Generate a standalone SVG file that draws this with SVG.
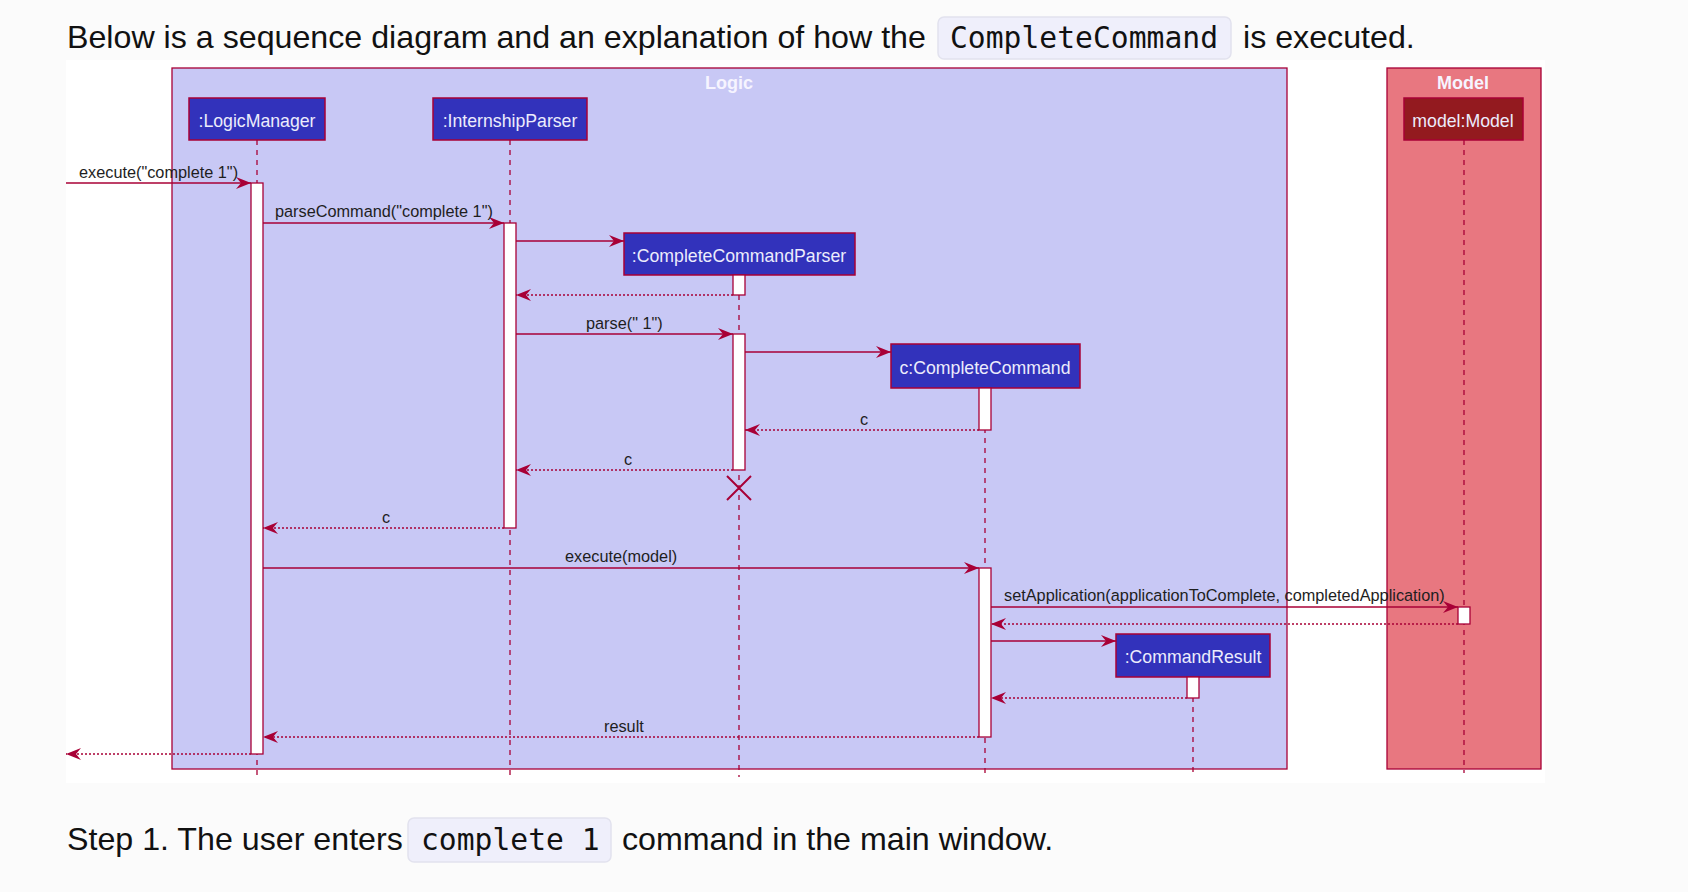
<svg xmlns="http://www.w3.org/2000/svg" width="1688" height="892" viewBox="0 0 1688 892">
<style>
.page{font-family:"Liberation Sans",Arial,sans-serif;font-size:32.2px;fill:#111}
.code{font-family:"DejaVu Sans Mono","Liberation Mono",monospace;font-size:29.7px;fill:#111}
.codebox{fill:#efeffb;stroke:#e2e2ee;stroke-width:1.5}
.frame-logic{fill:#c8c8f5;stroke:#A80036;stroke-width:1.3}
.frame-model{fill:#e87780;stroke:#A80036;stroke-width:1.3}
.ftitle{font-family:"Liberation Sans",Arial,sans-serif;font-size:18px;font-weight:bold;fill:#f6f4ff;text-anchor:middle}
.part{fill:#3232bb;stroke:#A80036;stroke-width:1.5}
.partm{fill:#931a1f;stroke:#A80036;stroke-width:1.5}
.plabel{font-family:"Liberation Sans",Arial,sans-serif;font-size:17.7px;fill:#ececfc;text-anchor:middle}
.life{stroke:#A80036;stroke-width:1.3;stroke-dasharray:5,5;fill:none}
.act{fill:#ffffff;stroke:#A80036;stroke-width:1.3}
.msg{stroke:#A80036;stroke-width:1.5;fill:none;marker-end:url(#ah)}
.ret{stroke:#A80036;stroke-width:1.3;fill:none;stroke-dasharray:2,2;marker-end:url(#ah)}
.mlabel{font-family:"Liberation Sans",Arial,sans-serif;font-size:16.3px;fill:#1e1e1e}
</style>
<defs>
<marker id="ah" markerWidth="16" markerHeight="14" refX="15" refY="6" orient="auto" markerUnits="userSpaceOnUse">
<path d="M0,0 L15,6 L0,12 L5,6 Z" fill="#A80036"/>
</marker>
</defs>
<rect x="0" y="0" width="1688" height="892" fill="#fbfbfb"/>
<rect x="66" y="60" width="1479" height="723" fill="#ffffff"/>

<g id="title">
<text class="page" x="67" y="48">Below is a sequence diagram and an explanation of how the</text>
<rect class="codebox" x="938" y="17" width="293" height="42" rx="6"/>
<text class="code" x="950" y="48">CompleteCommand</text>
<text class="page" x="1243" y="48">is executed.</text>
</g>

<g id="frame-logic">
<rect class="frame-logic" x="172" y="68" width="1115" height="701"/>
<text class="ftitle" x="729" y="89">Logic</text>
</g>
<g id="frame-model">
<rect class="frame-model" x="1387" y="68" width="154" height="701"/>
<text class="ftitle" x="1463" y="89">Model</text>
</g>

<g id="lifelines">
<line class="life" x1="257" y1="140" x2="257" y2="777"/>
<line class="life" x1="510" y1="140" x2="510" y2="777"/>
<line class="life" x1="739" y1="275" x2="739" y2="777"/>
<line class="life" x1="985" y1="388" x2="985" y2="777"/>
<line class="life" x1="1193" y1="677" x2="1193" y2="777"/>
<line class="life" x1="1464" y1="140" x2="1464" y2="773"/>
</g>

<g id="node-logicmanager">
<rect class="part" x="189" y="98" width="136" height="42"/>
<text class="plabel" x="257" y="127">:LogicManager</text>
</g>
<g id="node-internshipparser">
<rect class="part" x="433" y="98" width="154" height="42"/>
<text class="plabel" x="510" y="127">:InternshipParser</text>
</g>
<g id="node-completecommandparser">
<rect class="part" x="624" y="233" width="231" height="42"/>
<text class="plabel" x="739" y="262">:CompleteCommandParser</text>
</g>
<g id="node-completecommand">
<rect class="part" x="891" y="344" width="189" height="44"/>
<text class="plabel" x="985" y="374">c:CompleteCommand</text>
</g>
<g id="node-commandresult">
<rect class="part" x="1116" y="634" width="154" height="43"/>
<text class="plabel" x="1193" y="663">:CommandResult</text>
</g>
<g id="node-model">
<rect class="partm" x="1404" y="98" width="119" height="42"/>
<text class="plabel" x="1463" y="127">model:Model</text>
</g>

<g id="activations">
<rect class="act" x="251" y="183" width="12" height="571"/>
<rect class="act" x="504" y="223" width="12" height="305"/>
<rect class="act" x="733" y="275" width="12" height="20"/>
<rect class="act" x="733" y="334" width="12" height="136"/>
<rect class="act" x="979" y="388" width="12" height="42"/>
<rect class="act" x="979" y="568" width="12" height="169"/>
<rect class="act" x="1458" y="607" width="12" height="17"/>
<rect class="act" x="1187" y="677" width="12" height="21"/>
</g>

<g id="connectors">
<line class="msg" x1="66" y1="183" x2="251" y2="183"/>
<text class="mlabel" x="79" y="178">execute("complete 1")</text>
<line class="msg" x1="263" y1="223" x2="504" y2="223"/>
<text class="mlabel" x="275" y="217">parseCommand("complete 1")</text>
<line class="msg" x1="516" y1="241" x2="624" y2="241"/>
<line class="ret" x1="733" y1="295" x2="516" y2="295"/>
<line class="msg" x1="516" y1="334" x2="733" y2="334"/>
<text class="mlabel" x="586" y="329">parse(" 1")</text>
<line class="msg" x1="745" y1="352" x2="891" y2="352"/>
<line class="ret" x1="979" y1="430" x2="745" y2="430"/>
<text class="mlabel" x="860" y="425">c</text>
<line class="ret" x1="733" y1="470" x2="516" y2="470"/>
<text class="mlabel" x="624" y="465">c</text>
<path d="M727,476 L751,500 M751,476 L727,500" stroke="#A80036" stroke-width="2" fill="none"/>
<line class="ret" x1="504" y1="528" x2="263" y2="528"/>
<text class="mlabel" x="382" y="523">c</text>
<line class="msg" x1="263" y1="568" x2="979" y2="568"/>
<text class="mlabel" x="565" y="562">execute(model)</text>
<line class="msg" x1="991" y1="607" x2="1458" y2="607"/>
<text class="mlabel" x="1004" y="601">setApplication(applicationToComplete, completedApplication)</text>
<line class="ret" x1="1458" y1="624" x2="991" y2="624"/>
<line class="msg" x1="991" y1="641" x2="1116" y2="641"/>
<line class="ret" x1="1187" y1="698" x2="991" y2="698"/>
<line class="ret" x1="979" y1="737" x2="263" y2="737"/>
<text class="mlabel" x="604" y="732">result</text>
<line class="ret" x1="251" y1="754" x2="66" y2="754"/>
</g>

<g id="step">
<text class="page" x="67" y="850">Step 1. The user enters</text>
<rect class="codebox" x="408" y="818" width="203" height="44" rx="6"/>
<text class="code" x="421" y="850">complete 1</text>
<text class="page" x="622" y="850">command in the main window.</text>
</g>
</svg>
